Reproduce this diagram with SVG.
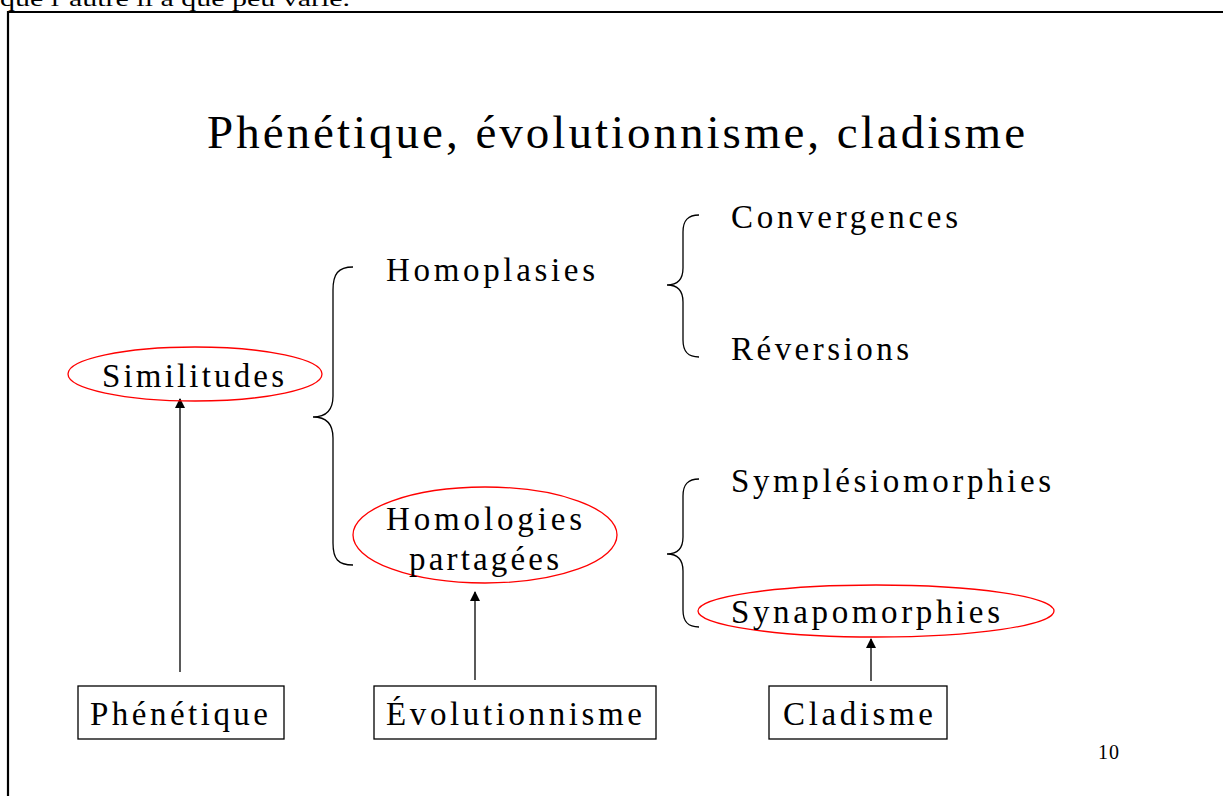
<svg xmlns="http://www.w3.org/2000/svg" width="1223" height="796" viewBox="0 0 1223 796">
  <style>
    text { font-family: "Liberation Serif", "Times New Roman", serif; fill: #000; }
    .lbl { font-size: 33px; }
    .ring { fill: none; stroke: #ff0000; stroke-width: 1.3; }
    .box { fill: #fff; stroke: #000; stroke-width: 1.3; }
    .brace { fill: none; stroke: #000; stroke-width: 1.3; }
    .link { stroke: #000; stroke-width: 1.3; fill: none; marker-end: url(#head); }
  </style>
  <defs>
    <marker id="head" viewBox="0 0 10 10" refX="9" refY="5" markerWidth="10" markerHeight="10" markerUnits="userSpaceOnUse" orient="auto">
      <path d="M0,0 L10,5 L0,10 Z" fill="#000"/>
    </marker>
  </defs>

  <rect width="1223" height="796" fill="#fff"/>

  <!-- running text of the page above the slide -->
  <text x="0" y="6" font-size="22" textLength="350" lengthAdjust="spacingAndGlyphs">que l’autre il a que peu varié.</text>

  <!-- slide frame -->
  <path d="M8,800 L8,12 L1230,12" fill="none" stroke="#000" stroke-width="2.2"/>

  <!-- title -->
  <text x="207" y="148" font-size="47" textLength="818" lengthAdjust="spacing">Phénétique, évolutionnisme, cladisme</text>

  <!-- braces -->
  <g id="braces">
    <path class="brace" d="M353,267 C338,267 333,274 333,290 L333,396 C333,412 325,417 313,417 C325,417 333,422 333,438 L333,543 C333,559 338,565 353,565"/>
    <path class="brace" d="M699,215 C688,215 683,220 683,232 L683,268 C683,280 677,285 667,285 C677,285 683,290 683,302 L683,340 C683,352 688,357 699,357"/>
    <path class="brace" d="M699,479 C688,479 683,484 683,496 L683,537 C683,549 677,554 667,554 C677,554 683,559 683,571 L683,610 C683,622 688,627 699,627"/>
  </g>

  <!-- connectors -->
  <g id="connectors">
    <line class="link" x1="180" y1="672" x2="180" y2="399"/>
    <line class="link" x1="475" y1="680" x2="475" y2="592"/>
    <line class="link" x1="871" y1="681" x2="871" y2="639"/>
  </g>

  <g id="similitudes">
    <ellipse class="ring" cx="195" cy="374" rx="127" ry="27"/>
    <text class="lbl" x="102" y="387" textLength="182" lengthAdjust="spacing">Similitudes</text>
  </g>

  <g id="homoplasies">
    <text class="lbl" x="386" y="281" textLength="209" lengthAdjust="spacing">Homoplasies</text>
  </g>

  <g id="convergences">
    <text class="lbl" x="731" y="228" textLength="227" lengthAdjust="spacing">Convergences</text>
  </g>

  <g id="reversions">
    <text class="lbl" x="731" y="360" textLength="178" lengthAdjust="spacing">Réversions</text>
  </g>

  <g id="homologies">
    <ellipse class="ring" cx="485" cy="535" rx="132" ry="48"/>
    <text class="lbl" x="386" y="530" textLength="196" lengthAdjust="spacing">Homologies</text>
    <text class="lbl" x="409" y="570" textLength="150" lengthAdjust="spacing">partagées</text>
  </g>

  <g id="symplesiomorphies">
    <text class="lbl" x="731" y="492" textLength="320" lengthAdjust="spacing">Symplésiomorphies</text>
  </g>

  <g id="synapomorphies">
    <ellipse class="ring" cx="876" cy="611" rx="178" ry="26"/>
    <text class="lbl" x="731" y="623" textLength="269" lengthAdjust="spacing">Synapomorphies</text>
  </g>

  <g id="phenetique">
    <rect class="box" x="78" y="686" width="206" height="53"/>
    <text class="lbl" x="90" y="725" textLength="178" lengthAdjust="spacing">Phénétique</text>
  </g>

  <g id="evolutionnisme">
    <rect class="box" x="374" y="686" width="282" height="53"/>
    <text class="lbl" x="386" y="725" textLength="256" lengthAdjust="spacing">Évolutionnisme</text>
  </g>

  <g id="cladisme">
    <rect class="box" x="769" y="686" width="178" height="53"/>
    <text class="lbl" x="783" y="725" textLength="150" lengthAdjust="spacing">Cladisme</text>
  </g>

  <!-- slide number -->
  <text x="1098" y="759" font-size="20" textLength="21" lengthAdjust="spacing">10</text>
</svg>
